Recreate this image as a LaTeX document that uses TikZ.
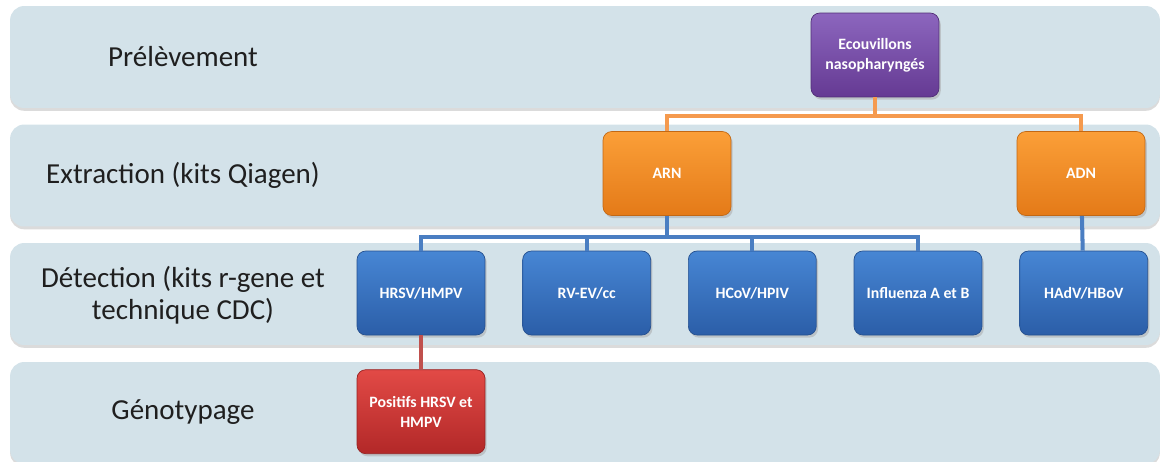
\documentclass[tikz,border=0pt]{standalone}
\usepackage{fontspec}
\setmainfont{Carlito}
\usetikzlibrary{positioning, shadows}
\definecolor{bandgray}{HTML}{D3E2E9}
\definecolor{purpleT}{HTML}{8C66BE}
\definecolor{purpleB}{HTML}{653A93}
\definecolor{orangeT}{HTML}{FB9F38}
\definecolor{orangeB}{HTML}{E47A18}
\definecolor{blueT}{HTML}{4786D4}
\definecolor{blueB}{HTML}{2B5EA8}
\definecolor{redT}{HTML}{E24A46}
\definecolor{redB}{HTML}{B22828}
\definecolor{orangeL}{HTML}{F59A4E}
\definecolor{blueL}{HTML}{4A7EC2}
\definecolor{redL}{HTML}{C0504D}

\begin{document}
\begin{tikzpicture}
[x=0.02cm, y=-0.02cm,
   band/.style={shape=rectangle, rounded corners=8pt, fill=bandgray,
     minimum width=23cm, minimum height=2.04cm,
     drop shadow={shadow xshift=0pt, shadow yshift=-1.6pt, fill=black!28}},
   stage/.style={font=\fontsize{16.5}{18.5}\selectfont, text=black!88, align=center},
   boxG/.style={shape=rectangle, rounded corners=5pt, minimum width=2.56cm,
     minimum height=1.68cm, text=white, align=center,
     font=\bfseries\fontsize{9}{11.5}\selectfont,
     drop shadow={shadow xshift=1pt, shadow yshift=-1.5pt, fill=black!35}},
   purpleG/.style={boxG, top color=purpleT, bottom color=purpleB, draw=purpleB!80!black},
   orangeG/.style={boxG, top color=orangeT, bottom color=orangeB, draw=orangeB!85!black},
   blueG/.style={boxG, top color=blueT, bottom color=blueB, draw=blueB!85!black},
   redG/.style={boxG, top color=redT, bottom color=redB, draw=redB!85!black},
   oline/.style={draw=orangeL, line width=2.3pt},
   bline/.style={draw=blueL, line width=2.3pt},
   rline/.style={draw=redL, line width=2.3pt}]
\useasboundingbox (0,0) rectangle (1164,461);
% bands
\node[band] (B1) at (585,57) {};
\node[band] (B2) at (585,175.5) {};
\node[band] (B3) at (585,294) {};
\node[band] (B4) at (585,413) {};
\node[stage] (S1) at (183,57) {Prélèvement};
\node[stage] (S2) at (183,175) {Extraction (kits Qiagen)};
\node[stage] (S3) at (183,295) {Détection (kits r-gene et\\technique CDC)};
\node[stage] (S4) at (183,412) {Génotypage};
% boxes
\node[purpleG] (Ecouv) at (875,55) {Ecouvillons\\nasopharyngés};
\node[orangeG] (ARN) at (667,173.5) {ARN};
\node[orangeG] (ADN) at (1081,173.5) {ADN};
\node[blueG] (HRSV) at (421,293) {HRSV/HMPV};
\node[blueG] (RVEV) [right=0.74cm of HRSV] {RV-EV/cc};
\node[blueG] (HCoV) [right=0.74cm of RVEV] {HCoV/HPIV};
\node[blueG] (Flu) [right=0.74cm of HCoV] {Influenza A et B};
\node[blueG] (HAdV) [right=0.74cm of Flu] {HAdV/HBoV};
\node[redG] (Pos) [below=0.68cm of HRSV] {Positifs HRSV et\\HMPV};
% connectors
\coordinate (oj) at (875,116);
\coordinate (bj) at (667,237);
\draw [oline] (Ecouv) -- (oj);
\draw [oline] (oj) -| (ARN);
\draw [oline] (oj) -| (ADN);
\draw [bline] (ARN) -- (bj);
\draw [bline] (bj) -| (HRSV);
\draw [bline] (bj) -| (RVEV);
\draw [bline] (bj) -| (HCoV);
\draw [bline] (bj) -| (Flu);
\draw [bline] (ADN) -- (HAdV);
\draw [rline] (HRSV) -- (Pos);
\end{tikzpicture}
\end{document}
